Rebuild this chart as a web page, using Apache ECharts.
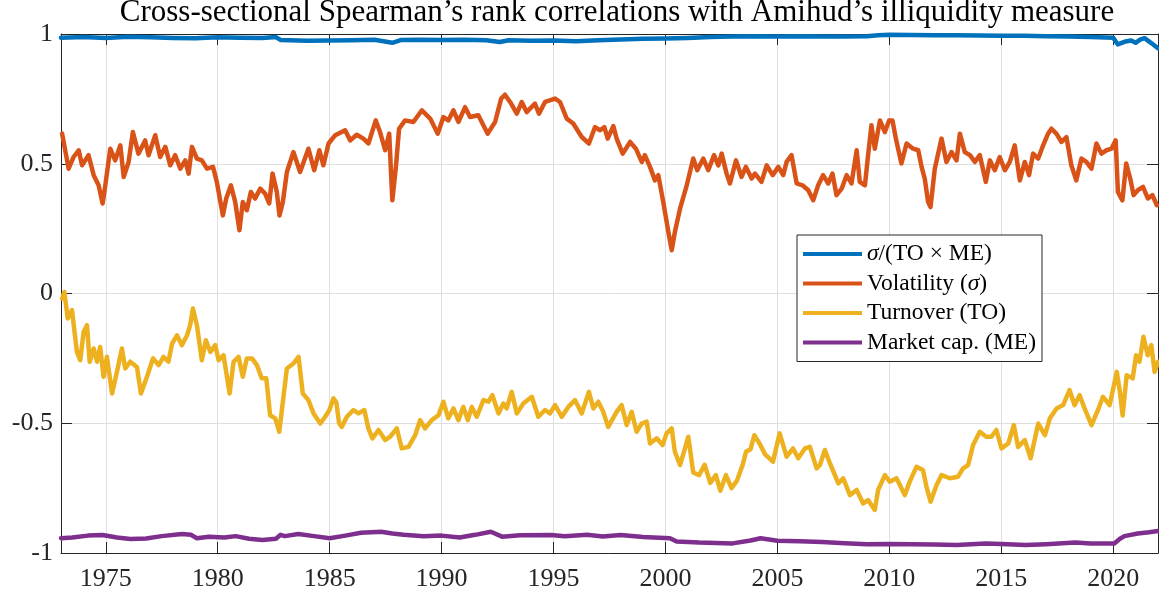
<!DOCTYPE html>
<html>
<head>
<meta charset="utf-8">
<script src="https://cdn.jsdelivr.net/npm/echarts@6/dist/echarts.min.js"></script>
<style>
  html, body { margin: 0; padding: 0; background: #fff; }
  #chart { width: 1159px; height: 598px; }
</style>
</head>
<body>
<div id="chart"></div>
<script>
// tick labels
const yearTicks = [1975, 1980, 1985, 1990, 1995, 2000, 2005, 2010, 2015, 2020];

// sigma/(TO x ME)
const ratioYears = [1973.0, 1974, 1975, 1976, 1977, 1978, 1979, 1980, 1981, 1982, 1982.6, 1982.8, 1983.2, 1984, 1985, 1986, 1987, 1987.8, 1988.2, 1989, 1990, 1991, 1992, 1992.6, 1993, 1994, 1995, 1996, 1997, 1998, 1999, 2000, 2001, 2002, 2003, 2004, 2005, 2006, 2007, 2008, 2009, 2009.5, 2010, 2011, 2012, 2013, 2014, 2015, 2016, 2017, 2018, 2019, 2020, 2020.2, 2020.5, 2020.8, 2021, 2021.2, 2021.4, 2021.7, 2022];
const ratioVals = [0.986, 0.988, 0.985, 0.989, 0.987, 0.985, 0.984, 0.987, 0.986, 0.985, 0.988, 0.977, 0.976, 0.974, 0.975, 0.976, 0.978, 0.966, 0.977, 0.978, 0.977, 0.978, 0.976, 0.969, 0.976, 0.974, 0.975, 0.972, 0.976, 0.979, 0.982, 0.983, 0.985, 0.988, 0.990, 0.991, 0.990, 0.991, 0.990, 0.990, 0.991, 0.995, 0.997, 0.996, 0.995, 0.995, 0.994, 0.993, 0.993, 0.991, 0.990, 0.988, 0.986, 0.960, 0.970, 0.975, 0.966, 0.978, 0.984, 0.965, 0.945];

// Volatility
const volYears = [1973.05, 1973.34, 1973.56, 1973.79, 1973.94, 1974.23, 1974.46, 1974.68, 1974.86, 1974.98, 1975.2, 1975.42, 1975.65, 1975.8, 1976.02, 1976.21, 1976.46, 1976.76, 1976.91, 1977.21, 1977.43, 1977.66, 1977.88, 1978.1, 1978.33, 1978.55, 1978.7, 1978.85, 1979.07, 1979.29, 1979.52, 1979.79, 1979.96, 1980.23, 1980.38, 1980.59, 1980.78, 1980.97, 1981.12, 1981.3, 1981.48, 1981.67, 1981.9, 1982.12, 1982.3, 1982.45, 1982.64, 1982.76, 1982.91, 1983.09, 1983.38, 1983.68, 1984.05, 1984.31, 1984.54, 1984.72, 1984.95, 1985.25, 1985.69, 1985.92, 1986.21, 1986.51, 1986.73, 1987.06, 1987.25, 1987.48, 1987.66, 1987.8, 1987.96, 1988.1, 1988.37, 1988.74, 1989.12, 1989.49, 1989.83, 1990.08, 1990.3, 1990.53, 1990.75, 1991.05, 1991.27, 1991.64, 1992.06, 1992.39, 1992.66, 1992.83, 1993.06, 1993.36, 1993.58, 1993.8, 1994.17, 1994.35, 1994.62, 1995.07, 1995.29, 1995.59, 1995.88, 1996.26, 1996.58, 1996.85, 1997.08, 1997.27, 1997.42, 1997.67, 1997.82, 1998.09, 1998.42, 1998.68, 1998.94, 1999.08, 1999.31, 1999.53, 1999.68, 1999.9, 2000.13, 2000.28, 2000.42, 2000.65, 2000.95, 2001.24, 2001.42, 2001.69, 2001.91, 2002.17, 2002.36, 2002.51, 2002.73, 2002.88, 2003.15, 2003.4, 2003.59, 2003.85, 2004.0, 2004.29, 2004.52, 2004.79, 2005.04, 2005.26, 2005.41, 2005.63, 2005.86, 2006.12, 2006.38, 2006.6, 2006.82, 2007.04, 2007.27, 2007.46, 2007.64, 2007.87, 2008.09, 2008.31, 2008.54, 2008.68, 2008.91, 2009.05, 2009.2, 2009.35, 2009.58, 2009.8, 2009.99, 2010.14, 2010.29, 2010.54, 2010.77, 2011.06, 2011.29, 2011.44, 2011.58, 2011.73, 2011.84, 2012.03, 2012.33, 2012.55, 2012.78, 2013.0, 2013.15, 2013.37, 2013.6, 2013.82, 2014.04, 2014.31, 2014.49, 2014.71, 2014.93, 2015.16, 2015.38, 2015.6, 2015.83, 2016.05, 2016.24, 2016.42, 2016.65, 2016.87, 2017.09, 2017.24, 2017.46, 2017.69, 2017.91, 2018.13, 2018.35, 2018.58, 2018.8, 2019.03, 2019.25, 2019.47, 2019.7, 2019.92, 2020.11, 2020.21, 2020.41, 2020.58, 2020.76, 2020.91, 2021.1, 2021.33, 2021.55, 2021.75, 2021.95];
const volVals = [0.616, 0.481, 0.526, 0.552, 0.494, 0.533, 0.456, 0.417, 0.347, 0.417, 0.558, 0.513, 0.571, 0.449, 0.507, 0.622, 0.539, 0.590, 0.533, 0.610, 0.526, 0.565, 0.494, 0.533, 0.481, 0.513, 0.462, 0.565, 0.520, 0.513, 0.481, 0.488, 0.430, 0.301, 0.366, 0.417, 0.353, 0.244, 0.353, 0.321, 0.391, 0.366, 0.404, 0.385, 0.347, 0.462, 0.391, 0.301, 0.353, 0.468, 0.545, 0.468, 0.558, 0.475, 0.552, 0.494, 0.578, 0.610, 0.629, 0.590, 0.612, 0.597, 0.578, 0.667, 0.622, 0.552, 0.616, 0.359, 0.488, 0.635, 0.667, 0.661, 0.706, 0.674, 0.616, 0.680, 0.667, 0.706, 0.661, 0.718, 0.680, 0.687, 0.616, 0.661, 0.751, 0.766, 0.738, 0.693, 0.738, 0.699, 0.732, 0.693, 0.738, 0.751, 0.738, 0.674, 0.655, 0.603, 0.578, 0.641, 0.629, 0.641, 0.597, 0.645, 0.597, 0.539, 0.584, 0.558, 0.507, 0.533, 0.488, 0.436, 0.456, 0.353, 0.237, 0.167, 0.237, 0.327, 0.417, 0.520, 0.475, 0.520, 0.475, 0.533, 0.494, 0.539, 0.462, 0.424, 0.513, 0.449, 0.488, 0.443, 0.462, 0.430, 0.494, 0.456, 0.488, 0.456, 0.507, 0.533, 0.424, 0.417, 0.398, 0.359, 0.417, 0.456, 0.424, 0.462, 0.379, 0.404, 0.456, 0.424, 0.552, 0.430, 0.417, 0.533, 0.648, 0.558, 0.667, 0.622, 0.667, 0.667, 0.597, 0.501, 0.578, 0.558, 0.552, 0.488, 0.443, 0.353, 0.333, 0.481, 0.597, 0.507, 0.545, 0.513, 0.616, 0.545, 0.533, 0.507, 0.533, 0.430, 0.513, 0.475, 0.526, 0.475, 0.507, 0.571, 0.436, 0.507, 0.456, 0.539, 0.520, 0.571, 0.616, 0.635, 0.616, 0.584, 0.603, 0.494, 0.436, 0.520, 0.507, 0.481, 0.578, 0.539, 0.552, 0.558, 0.590, 0.391, 0.359, 0.501, 0.443, 0.379, 0.398, 0.411, 0.366, 0.379, 0.340];

// Turnover
const toYears = [1973.05, 1973.15, 1973.3, 1973.49, 1973.71, 1973.86, 1974.01, 1974.16, 1974.28, 1974.46, 1974.61, 1974.75, 1974.9, 1975.05, 1975.28, 1975.5, 1975.72, 1975.87, 1976.09, 1976.39, 1976.57, 1976.84, 1977.11, 1977.36, 1977.58, 1977.8, 1977.96, 1978.18, 1978.4, 1978.63, 1978.77, 1978.89, 1979.07, 1979.29, 1979.47, 1979.67, 1979.89, 1980.04, 1980.26, 1980.53, 1980.71, 1980.93, 1981.12, 1981.3, 1981.53, 1981.75, 1981.97, 1982.17, 1982.34, 1982.57, 1982.75, 1982.91, 1983.09, 1983.38, 1983.61, 1983.8, 1984.05, 1984.28, 1984.58, 1984.8, 1984.99, 1985.17, 1985.3, 1985.42, 1985.54, 1985.77, 1986.06, 1986.29, 1986.55, 1986.73, 1986.91, 1987.18, 1987.48, 1987.7, 1988.0, 1988.22, 1988.52, 1988.82, 1989.04, 1989.26, 1989.56, 1989.86, 1990.08, 1990.3, 1990.53, 1990.75, 1990.97, 1991.17, 1991.35, 1991.57, 1991.87, 1992.09, 1992.27, 1992.54, 1992.76, 1992.91, 1993.13, 1993.36, 1993.65, 1994.03, 1994.32, 1994.62, 1994.84, 1995.07, 1995.37, 1995.66, 1995.96, 1996.26, 1996.58, 1996.78, 1997.0, 1997.22, 1997.44, 1997.6, 1997.82, 1998.04, 1998.27, 1998.49, 1998.71, 1998.94, 1999.16, 1999.31, 1999.61, 1999.87, 2000.05, 2000.28, 2000.42, 2000.65, 2000.87, 2001.02, 2001.24, 2001.5, 2001.75, 2002.0, 2002.25, 2002.45, 2002.7, 2002.95, 2003.2, 2003.45, 2003.6, 2003.8, 2003.97, 2004.2, 2004.45, 2004.8, 2005.1, 2005.41, 2005.7, 2005.93, 2006.23, 2006.45, 2006.75, 2006.9, 2007.12, 2007.35, 2007.72, 2007.94, 2008.24, 2008.54, 2008.83, 2009.05, 2009.35, 2009.5, 2009.8, 2010.02, 2010.32, 2010.47, 2010.69, 2010.91, 2011.21, 2011.5, 2011.66, 2011.84, 2012.11, 2012.33, 2012.7, 2013.07, 2013.29, 2013.52, 2013.74, 2014.04, 2014.33, 2014.56, 2014.78, 2015.01, 2015.31, 2015.56, 2015.75, 2016.05, 2016.31, 2016.65, 2016.95, 2017.17, 2017.47, 2017.76, 2018.05, 2018.27, 2018.5, 2018.72, 2019.03, 2019.32, 2019.54, 2019.84, 2020.16, 2020.3, 2020.42, 2020.6, 2020.87, 2021.02, 2021.17, 2021.35, 2021.54, 2021.7, 2021.85, 2022.0];
const toVals = [-0.019, 0.006, -0.096, -0.064, -0.225, -0.257, -0.148, -0.122, -0.263, -0.212, -0.263, -0.206, -0.321, -0.244, -0.385, -0.302, -0.212, -0.289, -0.263, -0.283, -0.385, -0.321, -0.250, -0.276, -0.244, -0.263, -0.193, -0.161, -0.199, -0.161, -0.122, -0.058, -0.122, -0.257, -0.180, -0.225, -0.199, -0.257, -0.238, -0.385, -0.263, -0.244, -0.321, -0.250, -0.250, -0.276, -0.327, -0.327, -0.469, -0.481, -0.533, -0.417, -0.289, -0.270, -0.244, -0.385, -0.411, -0.462, -0.501, -0.475, -0.449, -0.404, -0.420, -0.500, -0.514, -0.475, -0.449, -0.462, -0.449, -0.520, -0.558, -0.526, -0.565, -0.552, -0.520, -0.597, -0.591, -0.546, -0.488, -0.520, -0.488, -0.469, -0.417, -0.481, -0.443, -0.488, -0.437, -0.488, -0.437, -0.475, -0.411, -0.417, -0.392, -0.462, -0.424, -0.443, -0.379, -0.462, -0.424, -0.398, -0.475, -0.449, -0.462, -0.430, -0.475, -0.437, -0.411, -0.462, -0.379, -0.443, -0.417, -0.456, -0.514, -0.490, -0.456, -0.430, -0.507, -0.456, -0.533, -0.501, -0.494, -0.578, -0.558, -0.584, -0.539, -0.520, -0.610, -0.661, -0.597, -0.552, -0.690, -0.700, -0.660, -0.730, -0.700, -0.760, -0.700, -0.750, -0.720, -0.660, -0.610, -0.600, -0.546, -0.578, -0.620, -0.648, -0.539, -0.629, -0.597, -0.635, -0.597, -0.591, -0.674, -0.661, -0.603, -0.655, -0.732, -0.712, -0.777, -0.757, -0.809, -0.796, -0.834, -0.757, -0.700, -0.725, -0.712, -0.738, -0.777, -0.725, -0.668, -0.680, -0.745, -0.802, -0.738, -0.700, -0.712, -0.706, -0.674, -0.661, -0.584, -0.533, -0.552, -0.552, -0.526, -0.597, -0.578, -0.507, -0.591, -0.565, -0.635, -0.501, -0.546, -0.481, -0.443, -0.430, -0.372, -0.430, -0.392, -0.443, -0.507, -0.449, -0.398, -0.430, -0.302, -0.380, -0.470, -0.315, -0.327, -0.238, -0.263, -0.167, -0.238, -0.199, -0.302, -0.263];

// Market cap
const meYears = [1973.0, 1973.5, 1974.2, 1974.85, 1975.5, 1976.1, 1976.8, 1977.5, 1978.4, 1978.8, 1979.07, 1979.6, 1980.3, 1980.8, 1981.4, 1982, 1982.6, 1982.8, 1983, 1983.6, 1984.3, 1985, 1985.7, 1986.4, 1987.3, 1987.8, 1988.3, 1989.2, 1990, 1990.8, 1991.5, 1992.2, 1992.7, 1993.5, 1994.9, 1995.5, 1996.5, 1997.2, 1998, 1999, 2000.2, 2000.5, 2001.5, 2003, 2003.8, 2004.25, 2005, 2006, 2007, 2008, 2009, 2010, 2011, 2012, 2013, 2014.3, 2015, 2016.1, 2017, 2018.3, 2019, 2020.05, 2020.3, 2020.5, 2021.1, 2021.6, 2022];
const meVals = [-0.943, -0.940, -0.933, -0.931, -0.940, -0.946, -0.944, -0.935, -0.927, -0.930, -0.943, -0.937, -0.940, -0.935, -0.945, -0.950, -0.945, -0.930, -0.935, -0.927, -0.935, -0.943, -0.933, -0.922, -0.918, -0.925, -0.930, -0.935, -0.933, -0.940, -0.930, -0.918, -0.937, -0.932, -0.931, -0.935, -0.930, -0.936, -0.931, -0.938, -0.943, -0.956, -0.960, -0.963, -0.952, -0.943, -0.953, -0.955, -0.958, -0.962, -0.966, -0.965, -0.966, -0.967, -0.969, -0.963, -0.965, -0.969, -0.966, -0.960, -0.963, -0.963, -0.945, -0.935, -0.925, -0.920, -0.915];

const zip = (xs, ys) => xs.map((x, i) => [x, ys[i]]);

const chart = echarts.init(document.getElementById('chart'));
const serif = 'Liberation Serif';
const axisColor = '#262626';

const xAxisBase = {
  type: 'value',
  min: 1973,
  max: 2022,
  axisLine: { show: true, onZero: false, lineStyle: { color: axisColor, width: 1 } },
  axisTick: { show: true, inside: true, length: 11, customValues: yearTicks, lineStyle: { color: axisColor } },
};
const yAxisBase = {
  type: 'value',
  min: -1,
  max: 1,
  interval: 0.5,
  axisLine: { show: true, onZero: false, lineStyle: { color: axisColor, width: 1 } },
  axisTick: { show: true, inside: true, length: 11, lineStyle: { color: axisColor } },
};

const option = {
  animation: false,
  backgroundColor: '#fff',
  title: {
    text: 'Cross-sectional Spearman\u2019s rank correlations with Amihud\u2019s illiquidity measure',
    left: 617,
    top: -3,
    textAlign: 'center',
    padding: 0,
    textStyle: { fontFamily: serif, fontSize: 31, fontWeight: 'normal', color: '#000' },
  },
  grid: { left: 61, right: 1, top: 34, bottom: 45, containLabel: false },
  legend: {
    orient: 'vertical',
    left: 797,
    top: 235,
    padding: [7, 6, 7, 6],
    itemGap: 5.5,
    itemWidth: 59,
    itemHeight: 4,
    icon: 'rect',
    backgroundColor: '#fff',
    borderColor: axisColor,
    borderWidth: 1,
    borderRadius: 0,
    formatter: (name) => name.replace(/σ/g, '{i|σ}'),
    textStyle: {
      fontFamily: serif,
      fontSize: 23.5,
      color: '#000',
      rich: { i: { fontFamily: serif, fontSize: 23.5, fontStyle: 'italic', color: '#000' } },
    },
  },
  xAxis: [
    Object.assign({}, xAxisBase, {
      position: 'bottom',
      axisLabel: {
        show: true,
        customValues: yearTicks,
        formatter: (v) => String(v),
        margin: 13,
        fontFamily: serif,
        fontSize: 26,
        color: axisColor,
      },
      splitLine: { show: true, lineStyle: { color: '#dfdfdf', width: 1 } },
    }),
    Object.assign({}, xAxisBase, {
      position: 'top',
      axisLabel: { show: false },
      splitLine: { show: false },
    }),
  ],
  yAxis: [
    Object.assign({}, yAxisBase, {
      position: 'left',
      axisLabel: { show: true, margin: 8, fontFamily: serif, fontSize: 26, color: axisColor },
      splitLine: { show: true, lineStyle: { color: '#dfdfdf', width: 1 } },
    }),
    Object.assign({}, yAxisBase, {
      position: 'right',
      axisLabel: { show: false },
      splitLine: { show: false },
    }),
  ],
  series: [
    { name: 'σ/(TO × ME)', data: zip(ratioYears, ratioVals), color: '#0072BD' },
    { name: 'Volatility (σ)', data: zip(volYears, volVals), color: '#D95319' },
    { name: 'Turnover (TO)', data: zip(toYears, toVals), color: '#EDB120' },
    { name: 'Market cap. (ME)', data: zip(meYears, meVals), color: '#7E2F8E' },
  ].map((s) => ({
    name: s.name,
    type: 'line',
    xAxisIndex: 0,
    yAxisIndex: 0,
    data: s.data,
    showSymbol: false,
    symbol: 'none',
    smooth: false,
    itemStyle: { color: s.color },
    lineStyle: { color: s.color, width: 4.5, join: 'round', cap: 'round' },
  })),
};

chart.setOption(option);
</script>
</body>
</html>
